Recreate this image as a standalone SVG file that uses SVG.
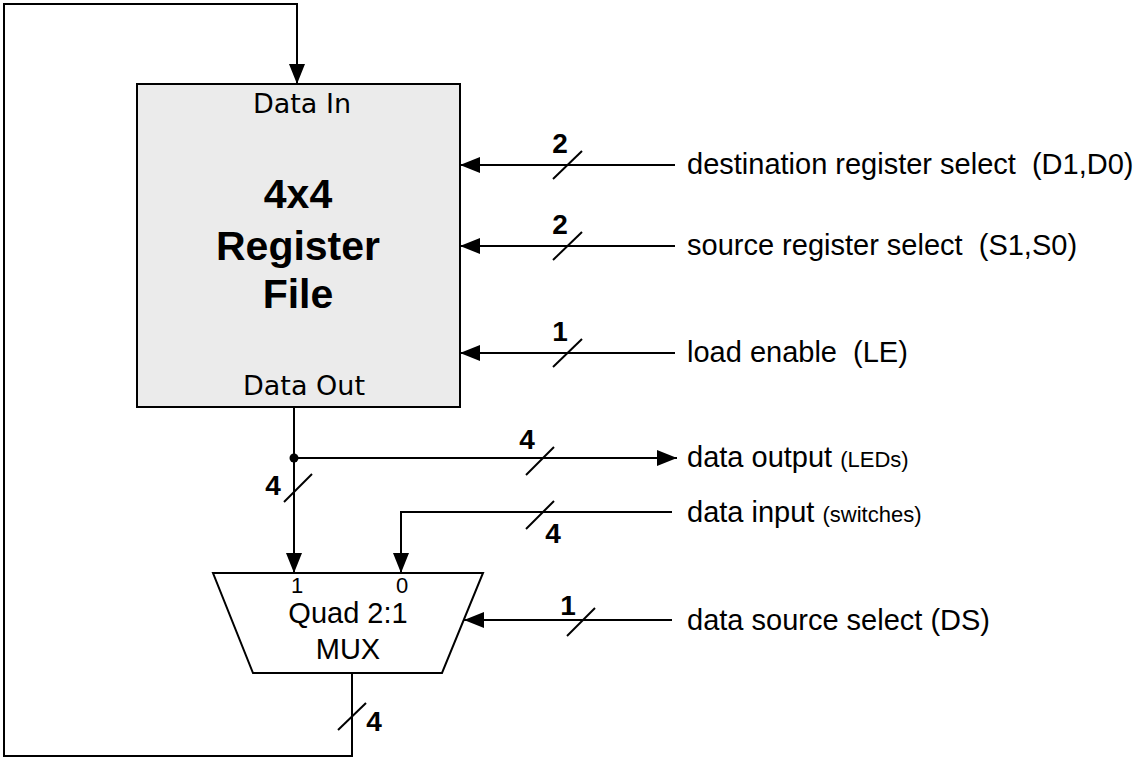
<svg xmlns="http://www.w3.org/2000/svg" width="1141" height="757" viewBox="0 0 1141 757">
  <style>
    .wire { fill: none; stroke: #000; stroke-width: 2; }
    .slash { stroke: #000; stroke-width: 2; }
    .lbl { font-family: "Liberation Sans", Arial, sans-serif; font-size: 29px; fill: #000; white-space: pre; }
    .small { font-size: 22px; }
    .pin { font-family: "Liberation Sans", Arial, sans-serif; font-size: 22px; fill: #000; }
    .bits { font-family: "Liberation Sans", Arial, sans-serif; font-size: 28px; font-weight: bold; fill: #000; }
    .port { font-family: "DejaVu Sans", sans-serif; font-size: 27px; fill: #000; }
    .title { font-family: "Liberation Sans", Arial, sans-serif; font-size: 41px; font-weight: bold; fill: #000; }
  </style>
  <defs>
    <marker id="arrowBig" viewBox="0 0 20 16" refX="20" refY="8" markerWidth="20" markerHeight="16" markerUnits="userSpaceOnUse" orient="auto">
      <path d="M0,0 L20,8 L0,16 z" fill="#000"/>
    </marker>
  </defs>

  <rect width="1141" height="757" fill="#fff"/>

  <!-- register file block -->
  <g id="register-file">
    <rect x="137" y="84" width="323" height="323" fill="#ebebeb" stroke="#000" stroke-width="2"/>
    <text class="port" x="302" y="113" text-anchor="middle">Data In</text>
    <text class="title" x="298" y="208" text-anchor="middle">4x4</text>
    <text class="title" x="298" y="260" text-anchor="middle">Register</text>
    <text class="title" x="298" y="308" text-anchor="middle">File</text>
    <text class="port" x="304" y="395" text-anchor="middle">Data Out</text>
  </g>

  <!-- 2:1 multiplexer -->
  <g id="mux">
    <polygon points="213,573 483,573 442,673 253,673" fill="#fff" stroke="#000" stroke-width="2"/>
    <text class="pin" x="297" y="593" text-anchor="middle">1</text>
    <text class="pin" x="402" y="593" text-anchor="middle">0</text>
    <text class="lbl" x="348" y="623" text-anchor="middle">Quad 2:1</text>
    <text class="lbl" x="348" y="659" text-anchor="middle">MUX</text>
  </g>

  <!-- external signal labels -->
  <g id="lbl-dest"><text class="lbl" x="687" y="174" xml:space="preserve">destination register select  (D1,D0)</text></g>
  <g id="lbl-src"><text class="lbl" x="687" y="255" xml:space="preserve">source register select  (S1,S0)</text></g>
  <g id="lbl-le"><text class="lbl" x="687" y="362" xml:space="preserve">load enable  (LE)</text></g>
  <g id="lbl-out"><text class="lbl" x="687" y="467">data output <tspan class="small">(LEDs)</tspan></text></g>
  <g id="lbl-in"><text class="lbl" x="687" y="522">data input <tspan class="small">(switches)</tspan></text></g>
  <g id="lbl-ds"><text class="lbl" x="687" y="630">data source select (DS)</text></g>

  <!-- connectors -->
  <g id="connectors">
    <!-- feedback from mux output to Data In -->
    <path class="wire" d="M352,673 V756 H4 V4 H297 V84" marker-end="url(#arrowBig)"/>
    <line class="slash" x1="338" y1="730" x2="366" y2="703"/>
    <text class="bits" x="374" y="731" text-anchor="middle">4</text>

    <!-- control inputs into register file -->
    <line class="wire" x1="675" y1="165" x2="460" y2="165" marker-end="url(#arrowBig)"/>
    <line class="slash" x1="553" y1="179" x2="582" y2="151"/>
    <text class="bits" x="560" y="153" text-anchor="middle">2</text>

    <line class="wire" x1="675" y1="246" x2="460" y2="246" marker-end="url(#arrowBig)"/>
    <line class="slash" x1="553" y1="260" x2="582" y2="232"/>
    <text class="bits" x="560" y="234" text-anchor="middle">2</text>

    <line class="wire" x1="675" y1="353" x2="460" y2="353" marker-end="url(#arrowBig)"/>
    <line class="slash" x1="553" y1="367" x2="582" y2="339"/>
    <text class="bits" x="560" y="341" text-anchor="middle">1</text>

    <!-- Data Out to mux input 1, with tap to LEDs -->
    <line class="wire" x1="294" y1="407" x2="294" y2="573" marker-end="url(#arrowBig)"/>
    <circle cx="294" cy="458" r="4.5" fill="#000"/>
    <line class="slash" x1="284" y1="502" x2="312" y2="474"/>
    <text class="bits" x="273" y="495" text-anchor="middle">4</text>

    <line class="wire" x1="294" y1="458" x2="677" y2="458" marker-end="url(#arrowBig)"/>
    <line class="slash" x1="526" y1="475" x2="554" y2="447"/>
    <text class="bits" x="527" y="449" text-anchor="middle">4</text>

    <!-- switches to mux input 0 -->
    <path class="wire" d="M672,512 H401 V573" marker-end="url(#arrowBig)"/>
    <line class="slash" x1="526" y1="529" x2="554" y2="501"/>
    <text class="bits" x="553" y="543" text-anchor="middle">4</text>

    <!-- data source select into mux -->
    <line class="wire" x1="672" y1="620" x2="464" y2="620" marker-end="url(#arrowBig)"/>
    <line class="slash" x1="567" y1="636" x2="595" y2="608"/>
    <text class="bits" x="568" y="615" text-anchor="middle">1</text>
  </g>
</svg>
